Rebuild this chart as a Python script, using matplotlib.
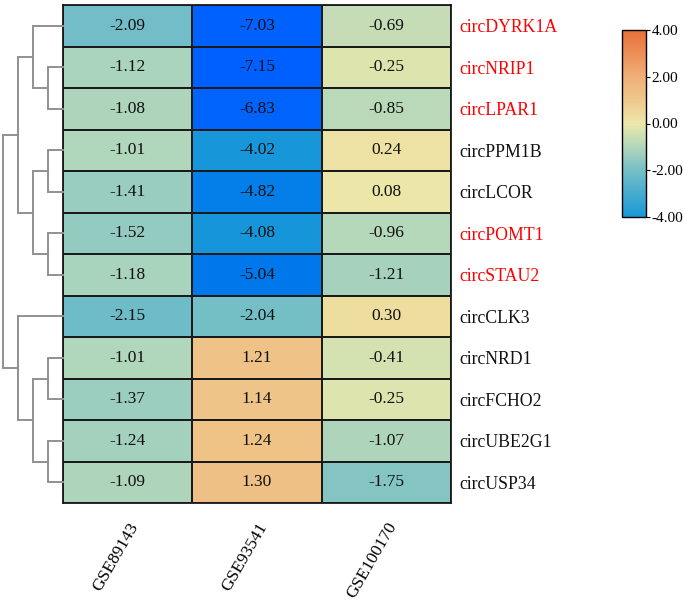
import numpy as np
import matplotlib
matplotlib.use('Agg')
import matplotlib.pyplot as plt
from matplotlib.colors import LinearSegmentedColormap, ListedColormap, Normalize
from matplotlib.cm import ScalarMappable

plt.rcParams['font.family'] = ['Liberation Serif', 'DejaVu Serif']

genes = ["circDYRK1A", "circNRIP1", "circLPAR1", "circPPM1B", "circLCOR", "circPOMT1",
         "circSTAU2", "circCLK3", "circNRD1", "circFCHO2", "circUBE2G1", "circUSP34"]
highlight = ["circDYRK1A", "circNRIP1", "circLPAR1", "circPOMT1", "circSTAU2"]
datasets = ["GSE89143", "GSE93541", "GSE100170"]

gse89143 = [-2.09, -1.12, -1.08, -1.01, -1.41, -1.52, -1.18, -2.15, -1.01, -1.37, -1.24, -1.09]
gse93541 = [-7.03, -7.15, -6.83, -4.02, -4.82, -4.08, -5.04, -2.04, 1.21, 1.14, 1.24, 1.30]
gse100170 = [-0.69, -0.25, -0.85, 0.24, 0.08, -0.96, -1.21, 0.30, -0.41, -0.25, -1.07, -1.75]

# row dendrogram: (left node, right node, height); leaves 0..11, new nodes from 12
merges = [(1, 2, 1), (3, 4, 1), (5, 6, 1), (8, 9, 1), (10, 11, 1),   # 12..16
          (0, 12, 2), (13, 14, 2), (15, 16, 2),                      # 17..19
          (17, 18, 3), (7, 19, 3),                                   # 20, 21
          (20, 21, 4)]

vals = np.array([gse89143, gse93541, gse100170]).T

vmin, vmax = -7.15, 4.0
stops = [(-7.15, "#0060ff"), (-5.0, "#0079ec"), (-4.0, "#1898d8"), (-2.0, "#76bfc6"),
         (-1.0, "#b2d7bb"), (0.0, "#ece8aa"), (1.2, "#efc387"), (2.0, "#f0b078"),
         (4.0, "#e8703a")]
cmap = LinearSegmentedColormap.from_list(
    "gse", [((v - vmin) / (vmax - vmin), c) for v, c in stops])
norm = Normalize(vmin, vmax)

fig = plt.figure(figsize=(6.85, 6.0), dpi=100)
W, H = 685, 600
left, right, top, bottom = 63, 451, 5, 503
ax = fig.add_axes([left / W, 1 - bottom / H, (right - left) / W, (bottom - top) / H])
ax.pcolormesh(vals, cmap=cmap, norm=norm, edgecolors="#1a1a1a", linewidth=1.3)
ax.set_xlim(0, 3)
ax.set_ylim(len(genes), 0)
for i in range(len(genes)):
    for j in range(3):
        ax.text(j + 0.5, i + 0.5, f"{vals[i, j]:.2f}", ha="center", va="center",
                fontsize=12.5, color="#111111")
for s in ax.spines.values():
    s.set_linewidth(1.3)
    s.set_color("#1a1a1a")

ax.yaxis.tick_right()
ax.set_yticks(np.arange(len(genes)) + 0.5)
ax.set_yticklabels(genes, fontsize=12.8)
for lab in ax.get_yticklabels():
    lab.set_color("red" if lab.get_text() in highlight else "#111111")
ax.tick_params(axis="y", length=0, pad=6)
ax.set_xticks(np.arange(3) + 0.5)
ax.set_xticklabels(datasets, fontsize=12.5, rotation=60, ha="right", rotation_mode="anchor")
ax.tick_params(axis="x", length=0, pad=12)

# dendrogram
dax = fig.add_axes([3 / W, 1 - bottom / H, (left - 3) / W, (bottom - top) / H])
pos = {i: (i + 0.5, 0.0) for i in range(len(genes))}
for k, (a, b, h) in enumerate(merges):
    ya, ha_ = pos[a]
    yb, hb = pos[b]
    dax.plot([ha_, h, h, hb], [ya, ya, yb, yb], color="#909090", lw=1.4,
             solid_joinstyle="miter", clip_on=False)
    pos[len(genes) + k] = ((ya + yb) / 2, h)
dax.set_xlim(4.0, 0)
dax.set_ylim(len(genes), 0)
dax.axis("off")

# colorbar
lo = norm(-4.0)
cb_cmap = ListedColormap(cmap(np.linspace(lo, 1, 256)))
cax = fig.add_axes([622 / W, 1 - 217 / H, 24 / W, 187 / H])
cb = fig.colorbar(ScalarMappable(norm=Normalize(-4, 4), cmap=cb_cmap), cax=cax,
                  ticks=[-4, -2, 0, 2, 4], format="%.2f")
cb.outline.set_linewidth(1.0)
cb.ax.tick_params(labelsize=11, length=3, width=0.8, pad=1)

fig.savefig("out.png", dpi=100)
